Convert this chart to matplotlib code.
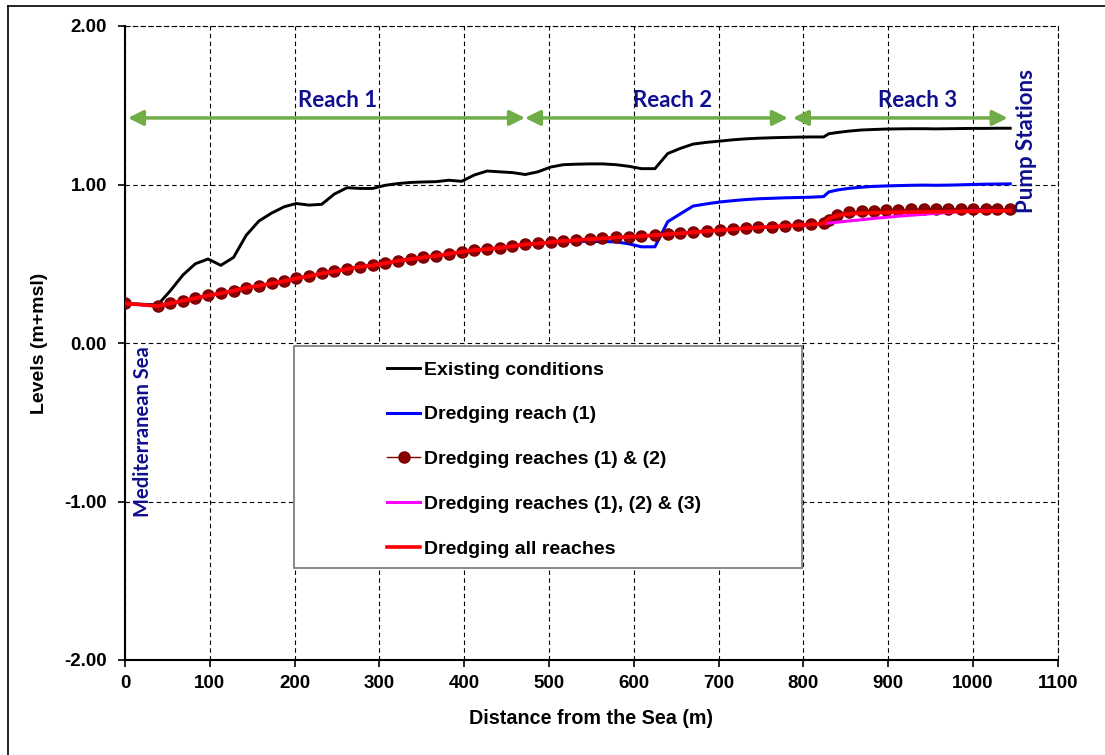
import matplotlib
matplotlib.use('Agg')
import matplotlib.pyplot as plt
from matplotlib.lines import Line2D
from matplotlib.patches import Rectangle
from matplotlib.ticker import FormatStrFormatter, MultipleLocator

# Cross-section stations (m from the sea)
distance = [0, 38.5, 53.5, 68.5, 83, 98, 113, 128, 143, 158,
            173, 188, 202, 217, 232, 247, 262, 277, 292, 307,
            322, 337, 352, 367, 382, 397, 412, 427, 442, 457,
            472, 487, 502, 517, 532, 548, 563, 579, 594, 609,
            625, 640, 655, 670, 686, 702, 717, 732, 747, 763,
            778, 794, 809, 824, 830, 840, 854, 869, 883, 898,
            912, 927, 942, 956, 971, 986, 1000, 1015, 1029, 1044]

existing = [0.25, 0.24, 0.33, 0.43, 0.50, 0.53, 0.49, 0.54, 0.68, 0.77,
            0.82, 0.86, 0.88, 0.87, 0.875, 0.94, 0.98, 0.975, 0.975, 0.995,
            1.006, 1.013, 1.016, 1.018, 1.027, 1.02, 1.06, 1.085, 1.08, 1.075,
            1.063, 1.08, 1.11, 1.125, 1.128, 1.13, 1.13, 1.125, 1.115, 1.10,
            1.10, 1.195, 1.228, 1.255, 1.266, 1.274, 1.282, 1.288, 1.292, 1.295,
            1.297, 1.299, 1.30, 1.30, 1.32, 1.328, 1.337, 1.344, 1.347, 1.35,
            1.351, 1.352, 1.352, 1.351, 1.352, 1.353, 1.354, 1.354, 1.355, 1.355]

reach1 = [0.25, 0.233, 0.25, 0.267, 0.283, 0.30, 0.313, 0.33, 0.349, 0.361,
          0.376, 0.39, 0.407, 0.422, 0.439, 0.452, 0.466, 0.481, 0.489, 0.504,
          0.519, 0.529, 0.54, 0.55, 0.563, 0.575, 0.586, 0.592, 0.60, 0.611,
          0.622, 0.628, 0.636, 0.643, 0.642, 0.641, 0.64, 0.638, 0.626, 0.607,
          0.607, 0.765, 0.815, 0.864, 0.878, 0.89, 0.898, 0.905, 0.91, 0.913,
          0.916, 0.918, 0.92, 0.924, 0.953, 0.965, 0.976, 0.983, 0.988, 0.991,
          0.993, 0.995, 0.996, 0.995, 0.996, 0.998, 1.0, 1.002, 1.003, 1.004]

# reaches 1 and 2 are the same for the last three scenarios up to x = 824
upstream = [0.25, 0.233, 0.25, 0.267, 0.283, 0.30, 0.313, 0.33, 0.349, 0.361,
            0.376, 0.39, 0.407, 0.422, 0.439, 0.452, 0.466, 0.481, 0.489, 0.504,
            0.519, 0.529, 0.54, 0.55, 0.563, 0.575, 0.586, 0.592, 0.60, 0.611,
            0.622, 0.628, 0.636, 0.643, 0.649, 0.655, 0.66, 0.666, 0.67, 0.674,
            0.68, 0.687, 0.691, 0.699, 0.706, 0.712, 0.718, 0.724, 0.729, 0.733,
            0.739, 0.743, 0.748, 0.755]
reach12_tail = [0.775, 0.81, 0.824, 0.833, 0.835, 0.838,
                0.84, 0.843, 0.847, 0.845, 0.845, 0.847, 0.845, 0.845, 0.845, 0.845]
reach123_tail = [0.757, 0.762, 0.77, 0.778, 0.786, 0.793,
                 0.80, 0.806, 0.812, 0.818, 0.824, 0.83, 0.834, 0.835, 0.835, 0.836]
all_tail = [0.785, 0.805, 0.815, 0.819, 0.822, 0.824,
            0.825, 0.826, 0.827, 0.828, 0.829, 0.83, 0.831, 0.832, 0.833, 0.834]

reach12 = upstream + reach12_tail
reach123 = upstream + reach123_tail
all_reaches = upstream + all_tail

labels = ['Existing conditions', 'Dredging reach (1)', 'Dredging reaches (1) & (2)',
          'Dredging reaches (1), (2) & (3)', 'Dredging all reaches']

# reach extents (start, end, label x)
reaches = [('Reach 1', 3.5, 471.7, 251), ('Reach 2', 471.7, 781.8, 646),
           ('Reach 3', 787.7, 1041, 935)]

NAVY = '#0f0f8f'
W, H = 1105, 755

plt.rcParams['font.family'] = ['Liberation Sans', 'DejaVu Sans']


def main():
    fig = plt.figure(figsize=(W / 100, H / 100), dpi=100)
    ax = fig.add_axes([125 / W, 1 - 660 / H, 932.7 / W, 634 / H])

    l0, = ax.plot(distance, existing, color='black', lw=2.1, zorder=3)
    l1, = ax.plot(distance, reach1, color='#0000ff', lw=2.2, zorder=3)
    l2, = ax.plot(distance, reach12, color='#8b0000', lw=1.0, marker='o', ms=8,
                  mec='#7a0000', mfc='#8b0000', zorder=3)
    l3, = ax.plot(distance, reach123, color='#ff00ff', lw=2.2, zorder=3)
    l4, = ax.plot(distance, all_reaches, color='#ff0000', lw=2.6, zorder=3)

    ax.set_xlim(0, 1100)
    ax.set_ylim(-2, 2)
    ax.xaxis.set_major_locator(MultipleLocator(100))
    ax.yaxis.set_major_locator(MultipleLocator(1))
    ax.yaxis.set_major_formatter(FormatStrFormatter('%.2f'))
    ax.grid(True, color='black', lw=0.8, ls=(0, (4, 3)))
    ax.set_axisbelow(True)
    for s in ('top', 'right'):
        ax.spines[s].set_linestyle((0, (4, 3)))
        ax.spines[s].set_linewidth(0.8)
    for s in ('left', 'bottom'):
        ax.spines[s].set_linewidth(1.5)
    ax.tick_params(axis='both', direction='out', length=5, width=1.2,
                   labelsize=13.5)
    ax.tick_params(axis='y', pad=8)
    ax.tick_params(axis='x', pad=6)
    for t in ax.get_xticklabels() + ax.get_yticklabels():
        t.set_fontweight('bold')

    ax.set_xlabel('Distance from the Sea (m)', fontsize=14.2, fontweight='bold')
    ax.set_ylabel('Levels (m+msl)', fontsize=14, fontweight='bold')
    ax.xaxis.set_label_coords(0.5, -(718 - 660) / 634)
    ax.xaxis.label.set_va('center')
    ax.yaxis.set_label_coords((39 - 125) / 932.7, 0.5)
    ax.yaxis.label.set_va('center')

    # reach arrows and labels
    for name, x0, x1, xt in reaches:
        ax.annotate('', xy=(x0, 1.42), xytext=(x1, 1.42),
                    arrowprops=dict(arrowstyle='<|-|>,head_length=0.9,head_width=0.45',
                                    color='#70ad47', lw=2.5, shrinkA=0, shrinkB=0))
        ax.text(xt, 1.53, name, color=NAVY, fontsize=16, fontweight='bold',
                family='Lato', ha='center', va='center')

    ax.text(21, -0.56, 'Mediterranean Sea', color=NAVY, fontsize=14.5, fontweight='bold',
            family='Lato', rotation=90, ha='center', va='center')
    ax.text(1063.6, 1.274, 'Pump Stations', color=NAVY, fontsize=16, fontweight='bold',
            family='Lato', rotation=90, ha='center', va='center', clip_on=False)

    # legend box
    box = Rectangle((294 / W, 1 - 568 / H), 508 / W, 222 / H, transform=fig.transFigure,
                    facecolor='white', edgecolor='#7f7f7f', lw=1.3, zorder=4)
    ax.add_patch(box)
    leg = ax.legend([l0, l1, l2, l3, l4], labels, loc='upper left',
                    bbox_to_anchor=(387 / W, 1 - 361 / H), bbox_transform=fig.transFigure,
                    frameon=False, borderpad=0, borderaxespad=0, handlelength=1.7,
                    handletextpad=0.2, labelspacing=1.4,
                    prop=dict(size=14, weight='bold'))
    leg.set_zorder(5)

    # outer frame (only top and left edges visible)
    fig.add_artist(Line2D([8 / W, 8 / W], [0, 1 - 6 / H], color='black', lw=1.2,
                          transform=fig.transFigure))
    fig.add_artist(Line2D([8 / W, 1], [1 - 6 / H, 1 - 6 / H], color='black', lw=1.2,
                          transform=fig.transFigure))

    fig.savefig('out.png', dpi=100)


if __name__ == '__main__':
    main()
